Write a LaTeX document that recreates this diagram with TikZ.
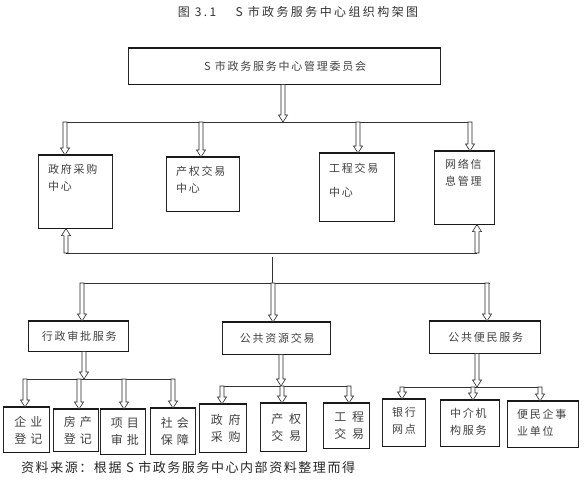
\documentclass[tikz,border=0pt]{standalone}
\usepackage{fontspec}
\setmainfont{Liberation Serif}
\newfontfamily\cjk{Noto Sans CJK SC}
\usetikzlibrary{calc}
% block arrow: from #1 to #2, #3 = -1 (pointing down) or 1 (pointing up)
\newcommand\barr[3]{%
  \draw[barrow] ($(#1)+(-2,0)$) -- ($(#2)+(-2,{#3*7})$) -- ($(#2)+(-4.5,{#3*7})$) -- (#2)
    -- ($(#2)+(4.5,{#3*7})$) -- ($(#2)+(2,{#3*7})$) -- ($(#1)+(2,0)$) -- cycle;}
% two centred lines, trailing letter space removed
\newcommand\twol[3]{#1\kern-#3\\#2\kern-#3}
\begin{document}
\begin{tikzpicture}[x=1pt,y=-1pt,
  box/.style={draw=black!85, line width=0.6pt, inner sep=0pt, anchor=north west,
    font=\cjk\fontsize{11}{17}\selectfont\addfontfeature{LetterSpace=16}, text=black!75, align=center},
  wide/.style={font=\cjk\fontsize{12}{17}\selectfont\addfontfeature{LetterSpace=35}},
  wider/.style={font=\cjk\fontsize{12}{17}\selectfont\addfontfeature{LetterSpace=48}},
  edgeline/.style={line width=1.3pt, draw=black!90},
  ln/.style={draw=black!80, line width=0.7pt},
  barrow/.style={draw=black!85, line width=0.6pt, fill=white, line join=miter},
  tx/.style={font=\cjk\fontsize{11}{17}\selectfont\addfontfeature{LetterSpace=16}, text=black!75,
    align=left, inner sep=0pt, anchor=north west},
]
\useasboundingbox (0,0) rectangle (587,489);

% title
\node[font=\cjk\fontsize{12}{14}\selectfont\addfontfeature{LetterSpace=20}, text=black!80] (title) at (298,12)
  {图 3.1\hspace{1.6em}S 市政务服务中心组织构架图};

% top
\node[box, minimum width=312, minimum height=36] (n0) at (128,48) {S 市政务服务中心管理委员会\kern-1.76pt};

% second level
\node[box, minimum width=74, minimum height=73] (a1) at (38,155) {};
\node[box, minimum width=73, minimum height=54] (a2) at (166,157) {};
\node[box, minimum width=75, minimum height=68] (a3) at (319,153) {};
\node[box, minimum width=60, minimum height=73] (a4) at (434,151) {};
\node[tx] (a1t) at (48,164) {政府采购\\中心};
\node[tx] (a2t) at (176,166) {产权交易\\中心};
\node[tx] (a3t) at (329,163) {工程交易\\[7pt]中心};
\node[tx] (a4t) at (445,159) {网络信\\息管理};

% third level
\node[box, minimum width=100, minimum height=30] (b1) at (28,321) {行政审批服务\kern-1.76pt};
\node[box, minimum width=108, minimum height=32] (b2) at (222,322) {公共资源交易\kern-1.76pt};
\node[box, minimum width=111, minimum height=32] (b3) at (429,321) {公共便民服务\kern-1.76pt};

% fourth level
\node[box, wide, minimum width=46, minimum height=45] (c1) at (3,407) {\twol{企业}{登记}{4.2pt}};
\node[box, wide, minimum width=45, minimum height=42] (c2) at (53,409) {\twol{房产}{登记}{4.2pt}};
\node[box, wide, minimum width=45, minimum height=45] (c3) at (100,409) {\twol{项目}{审批}{4.2pt}};
\node[box, wide, minimum width=45, minimum height=46] (c4) at (150,408) {\twol{社会}{保障}{4.2pt}};
\node[box, wider, minimum width=47, minimum height=48] (d1) at (199,404) {\twol{政府}{采购}{5.76pt}};
\node[box, wider, minimum width=46, minimum height=48] (d2) at (260,403) {\twol{产权}{交易}{5.76pt}};
\node[box, wider, minimum width=46, minimum height=45] (d3) at (323,403) {\twol{工程}{交易}{5.76pt}};
\node[box, minimum width=43, minimum height=47] (e1) at (382,399) {};
\node[box, minimum width=59, minimum height=46] (e2) at (440,400) {};
\node[box, minimum width=71, minimum height=46] (e3) at (507,401) {};
\node[tx] (e1t) at (392,407) {银行\\网点};
\node[tx] (e2t) at (450,408) {中介机\\构服务};
\node[tx] (e3t) at (517,409) {便民企事\\业单位};

% thick top/bottom edges
\foreach \n in {n0,a1,a2,a3,a4,b1,b2,b3,c1,c2,c3,c4,d1,d2,d3,e1,e2,e3}
  \draw[edgeline] (\n.north west) -- (\n.north east) (\n.south west) -- (\n.south east);

% junction coordinates
\coordinate (t0) at (283,122);
\coordinate (t1) at (65,122);
\coordinate (t2) at (201,122);
\coordinate (t3) at (358,122);
\coordinate (t4) at (470,122);
\coordinate (u1) at (66,253);
\coordinate (u4) at (477,253);
\coordinate (v0) at (272,257);
\coordinate (w0) at (272,283);
\coordinate (w1) at (82,283);
\coordinate (w2) at (273,283);
\coordinate (w3) at (487,283);
\coordinate (wl) at (80,283);
\coordinate (wr) at (490,283);
\coordinate (p0) at (84,379);
\coordinate (p1) at (25,379);
\coordinate (p2) at (79,379);
\coordinate (p3) at (124,379);
\coordinate (p4) at (173,379);
\coordinate (q0) at (281,386);
\coordinate (q1) at (222,386);
\coordinate (q2) at (282,386);
\coordinate (q3) at (349,386);
\coordinate (r0) at (477,387);
\coordinate (r1) at (402,387);
\coordinate (r2) at (473,387);
\coordinate (r3) at (540,387);

% lines
\draw[ln] (t1) -- (t4);
\draw[ln] (u1) -- (u4);
\draw[ln] (v0) -- (w0);
\draw[ln] (wl) -- (wr);
\draw[ln] (p1) -- (p4);
\draw[ln] (q1) -- (q3);
\draw[ln] (r1) -- (r3);

% block arrows
\barr{t0 |- n0.south}{t0}{-1}
\barr{t1}{t1 |- a1.north}{-1}
\barr{t2}{t2 |- a2.north}{-1}
\barr{t3}{t3 |- a3.north}{-1}
\barr{t4}{t4 |- a4.north}{-1}
\barr{u1}{u1 |- a1.south}{1}
\barr{u4}{u4 |- a4.south}{1}
\barr{w1}{w1 |- b1.north}{-1}
\barr{w2}{w2 |- b2.north}{-1}
\barr{w3}{w3 |- b3.north}{-1}
\barr{p0 |- b1.south}{p0}{-1}
\barr{p1}{p1 |- c1.north}{-1}
\barr{p2}{p2 |- c2.north}{-1}
\barr{p3}{p3 |- c3.north}{-1}
\barr{p4}{p4 |- c4.north}{-1}
\barr{q0 |- b2.south}{q0}{-1}
\barr{q1}{q1 |- d1.north}{-1}
\barr{q2}{q2 |- d2.north}{-1}
\barr{q3}{q3 |- d3.north}{-1}
\barr{r0 |- b3.south}{r0}{-1}
\barr{r1}{r1 |- e1.north}{-1}
\barr{r2}{r2 |- e2.north}{-1}
\barr{r3}{r3 |- e3.north}{-1}

% source note
\node[font=\cjk\fontsize{13}{15}\selectfont\addfontfeature{LetterSpace=12}, text=black!85, anchor=west, inner sep=0pt]
  (src) at (21,468) {资料来源：根据 S 市政务服务中心内部资料整理而得};
\end{tikzpicture}
\end{document}
